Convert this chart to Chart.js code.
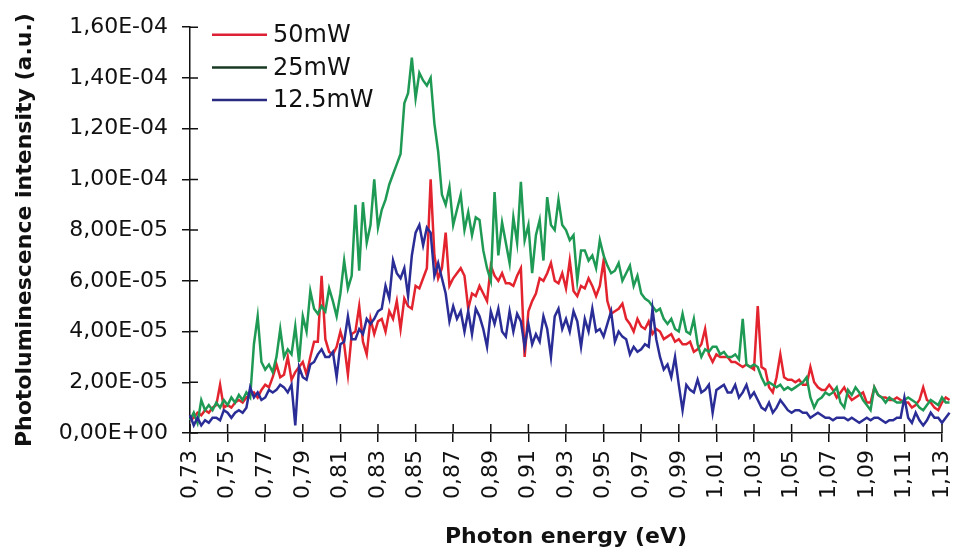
<!DOCTYPE html>
<html><head><meta charset="utf-8">
<script src="https://cdn.jsdelivr.net/npm/chart.js@4.4.1/dist/chart.umd.min.js"></script>
<style>html,body{margin:0;padding:0;background:#fff;}#wrap{width:958px;height:554px;}</style>
</head><body><div id="wrap"><canvas id="c" width="958" height="554"></canvas></div>
<script>
// Photon energy (eV)
const energy = [
0.730,0.732,0.734,0.736,0.738,0.740,0.742,0.744,0.746,0.748,
0.750,0.752,0.754,0.756,0.758,0.760,0.762,0.764,0.766,0.768,
0.770,0.772,0.774,0.776,0.778,0.780,0.782,0.784,0.786,0.788,
0.790,0.792,0.794,0.796,0.798,0.800,0.802,0.804,0.806,0.808,
0.810,0.812,0.814,0.816,0.818,0.820,0.822,0.824,0.826,0.828,
0.830,0.832,0.834,0.836,0.838,0.840,0.842,0.844,0.846,0.848,
0.850,0.852,0.854,0.856,0.858,0.860,0.862,0.864,0.866,0.868,
0.870,0.872,0.874,0.876,0.878,0.880,0.882,0.884,0.886,0.888,
0.890,0.892,0.894,0.896,0.898,0.900,0.902,0.904,0.906,0.908,
0.910,0.912,0.914,0.916,0.918,0.920,0.922,0.924,0.926,0.928,
0.930,0.932,0.934,0.936,0.938,0.940,0.942,0.944,0.946,0.948,
0.950,0.952,0.954,0.956,0.958,0.960,0.962,0.964,0.966,0.968,
0.970,0.972,0.974,0.976,0.978,0.980,0.982,0.984,0.986,0.988,
0.990,0.992,0.994,0.996,0.998,1.000,1.002,1.004,1.006,1.008,
1.010,1.012,1.014,1.016,1.018,1.020,1.022,1.024,1.026,1.028,
1.030,1.032,1.034,1.036,1.038,1.040,1.042,1.044,1.046,1.048,
1.050,1.052,1.054,1.056,1.058,1.060,1.062,1.064,1.066,1.068,
1.070,1.072,1.074,1.076,1.078,1.080,1.082,1.084,1.086,1.088,
1.090,1.092,1.094,1.096,1.098,1.100,1.102,1.104,1.106,1.108,
1.110,1.112,1.114,1.116,1.118,1.120,1.122,1.124,1.126,1.128,
1.130,1.132,1.134];

const seriesLabels = ['50mW', '25mW', '12.5mW'];

// Photoluminescence intensity, in units of 1E-06 a.u.
const pl50mW = [
5,6,8,7,9,8,10,11,19,10,
11,10,12,13,12,14,15,16,14,17,
19,18,22,27,22,23,30,21,24,26,
28,23,30,36,36,62,37,32,31,34,
40,35,23,39,40,50,36,31,45,39,
44,45,40,48,45,52,41,53,50,49,
58,57,61,65,100,70,61,65,79,58,
61,63,65,62,49,55,54,58,55,52,
66,62,60,63,59,59,58,62,65,30,
48,52,55,61,60,63,67,60,59,63,
57,68,56,54,58,57,61,58,54,58,
68,52,47,48,49,51,45,43,40,45,
42,41,44,39,41,40,37,38,39,36,
37,35,35,36,32,33,35,41,31,28,
31,30,30,30,28,28,27,26,27,26,
25,50,26,25,18,16,22,31,22,21,
21,20,21,19,19,26,20,18,17,17,
19,17,14,16,18,15,13,14,15,16,
12,12,18,15,14,14,13,13,14,13,
12,12,10,11,13,18,13,12,10,9,
12,14,13];

const pl25mW = [
5,8,4,13,9,11,9,12,10,13,
11,14,12,15,13,16,14,35,46,28,
25,27,24,30,41,30,33,31,42,28,
46,40,56,49,47,50,48,57,52,46,
55,68,57,62,90,64,91,75,82,100,
81,88,92,98,102,106,110,130,134,148,
132,142,139,137,140,122,111,94,90,97,
82,88,94,80,87,78,85,84,72,65,
60,95,70,83,75,67,85,75,99,76,
82,63,78,84,68,93,82,80,92,82,
80,76,78,60,72,72,68,70,65,76,
70,66,63,64,67,60,63,66,58,62,
55,53,52,50,48,49,45,43,45,41,
40,47,40,39,45,35,30,33,32,34,
34,31,32,30,30,31,29,45,27,26,
27,26,22,19,20,19,18,19,17,18,
17,18,19,20,22,14,10,13,14,16,
15,16,18,12,10,17,15,18,16,13,
11,9,18,15,14,12,14,13,12,12,
13,14,13,12,10,9,11,13,12,11,
14,12,12];

const pl12_5mW = [
7,3,6,3,5,4,6,6,5,9,
8,6,8,9,8,10,18,14,16,13,
14,17,16,17,19,18,16,19,3,26,
22,21,27,28,31,33,30,30,32,22,
35,36,46,37,37,41,39,45,43,45,
48,49,58,53,68,63,61,65,54,70,
79,82,74,81,79,62,67,61,55,44,
50,45,48,40,48,39,49,46,41,34,
48,43,49,40,38,48,40,47,44,34,
43,35,39,36,46,41,30,46,49,41,
45,40,48,44,34,45,40,49,40,41,
38,43,48,36,40,38,37,31,34,32,
33,35,34,49,37,30,25,27,22,30,
19,9,19,17,16,21,16,17,19,8,
17,18,19,16,16,19,14,16,19,14,
16,13,10,9,12,8,10,13,11,9,
8,9,9,8,8,6,7,8,7,6,
6,5,6,6,6,5,6,5,4,5,
6,5,6,6,5,4,5,5,6,6,
14,6,4,8,5,3,5,8,6,6,
4,6,8];

const xTickValues = [0.73,0.75,0.77,0.79,0.81,0.83,0.85,0.87,0.89,0.91,0.93,0.95,0.97,0.99,1.01,1.03,1.05,1.07,1.09,1.11,1.13];
const xTickLabels = ['0,73','0,75','0,77','0,79','0,81','0,83','0,85','0,87','0,89','0,91','0,93','0,95','0,97','0,99','1,01','1,03','1,05','1,07','1,09','1,11','1,13'];
const yTickValues = [0,20,40,60,80,100,120,140,160];
const yTickLabels = ['0,00E+00','2,00E-05','4,00E-05','6,00E-05','8,00E-05','1,00E-04','1,20E-04','1,40E-04','1,60E-04'];

const lineColors = ['#e3242f', '#1f9a55', '#2b2d96'];
const legendLineColors = ['#de2035', '#183a22', '#2a2b80'];

function pts(arr){ return energy.map((e,i)=>({x:e, y:arr[i]})); }

const decor = {
  id: 'decor',
  afterDraw(chart){
    const {ctx, chartArea:a, scales:{x, y}} = chart;
    ctx.save();
    ctx.strokeStyle = '#111';
    ctx.lineWidth = 1.5;
    ctx.beginPath();
    yTickValues.forEach(v => { const p = y.getPixelForValue(v); ctx.moveTo(a.left, p); ctx.lineTo(a.left + 8, p); });
    xTickValues.forEach(v => { const p = x.getPixelForValue(v); ctx.moveTo(p, a.bottom); ctx.lineTo(p, a.bottom - 9); });
    ctx.stroke();
    ctx.font = '24px "DejaVu Sans"';
    ctx.textBaseline = 'middle';
    ctx.textAlign = 'left';
    chart.data.datasets.forEach((ds, i) => {
      const yy = a.top + 7.5 + i * 32.7;
      ctx.strokeStyle = legendLineColors[i];
      ctx.lineWidth = 2.5;
      ctx.beginPath(); ctx.moveTo(a.left + 22, yy); ctx.lineTo(a.left + 77, yy); ctx.stroke();
      ctx.fillStyle = '#111';
      ctx.fillText(ds.label, a.left + 83, yy + 1);
    });
    ctx.restore();
  }
};

new Chart(document.getElementById('c'), {
  type: 'line',
  data: {
    datasets: [
      {label: seriesLabels[0], data: pts(pl50mW), borderColor: lineColors[0], order: 2},
      {label: seriesLabels[1], data: pts(pl25mW), borderColor: lineColors[1], order: 1},
      {label: seriesLabels[2], data: pts(pl12_5mW), borderColor: lineColors[2], order: 0}
    ]
  },
  options: {
    responsive: false,
    animation: false,
    devicePixelRatio: 1,
    datasets: { line: { borderWidth: 2.5, pointRadius: 0, tension: 0, fill: false, clip: false } },
    layout: { padding: { top: 20, right: 16, bottom: 0, left: 0 } },
    plugins: { legend: { display: false }, tooltip: { enabled: false } },
    scales: {
      x: {
        type: 'linear', bounds: 'data', grace: 0,
        afterDataLimits: s => { s.min = xTickValues[0]; s.max = xTickValues[xTickValues.length - 1]; },
        afterBuildTicks: s => { s.ticks = xTickValues.map(v => ({value: v})); s.min = xTickValues[0]; s.max = xTickValues[xTickValues.length - 1]; },
        afterFit: s => { s.height = 121; s.paddingRight = 0; s.paddingLeft = 0; },
        ticks: { autoSkip: false, minRotation: 90, maxRotation: 90, padding: 8, color: '#111',
                 font: { family: 'DejaVu Sans', size: 22 }, callback: (v, i) => xTickLabels[i] },
        grid: { display: true, drawOnChartArea: false, drawTicks: true, tickLength: 9, color: '#111', lineWidth: 1.5 },
        border: { display: true, color: '#111', width: 1.5 },
        title: { display: true, text: 'Photon energy (eV)', color: '#111',
                 font: { family: 'DejaVu Sans', size: 22, weight: 'bold' }, padding: { top: 0, bottom: 4 } }
      },
      y: {
        type: 'linear', min: 0, max: 160,
        afterBuildTicks: s => { s.ticks = yTickValues.map(v => ({value: v})); },
        afterFit: s => { s.width = 190; },
        ticks: { padding: 14, color: '#111', font: { family: 'DejaVu Sans', size: 22 },
                 callback: (v, i) => yTickLabels[i] },
        grid: { display: true, drawOnChartArea: false, drawTicks: true, tickLength: 8, color: '#111', lineWidth: 1.5 },
        border: { display: true, color: '#111', width: 1.5 },
        title: { display: true, text: 'Photoluminescence intensity (a.u.)', color: '#111',
                 font: { family: 'DejaVu Sans', size: 22, weight: 'bold' }, padding: { top: 12, bottom: 0 } }
      }
    }
  },
  plugins: [decor]
});
</script></body></html>
